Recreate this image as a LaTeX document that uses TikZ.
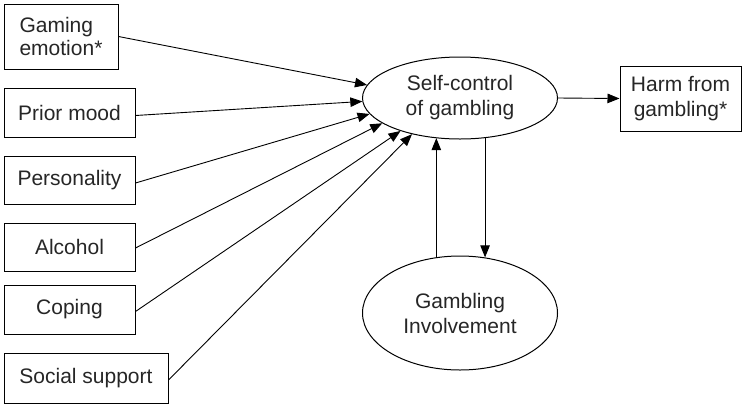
\documentclass[tikz,border=0pt]{standalone}
\usepackage{fontspec}
\setmainfont{Liberation Sans}
\usetikzlibrary{shapes.geometric,arrows.meta}

\begin{document}
\begin{tikzpicture}[x=1pt,y=-1pt,
  label text/.style={font=\fontsize{21}{25}\selectfont, text=black!85, align=center},
  factor/.style={label text, draw, line width=1pt, rectangle, inner sep=0pt},
  construct/.style={label text, draw, line width=1pt, ellipse, inner sep=0pt},
  link/.style={draw, line width=0.9pt, -{Triangle[length=12pt,width=9.5pt]}}
]
\useasboundingbox (0,0) rectangle (743,405);

% predictors on the left
\node[factor, minimum width=114pt, minimum height=65pt, align=left, font=\fontsize{21}{23}\selectfont]
  (ge) at (61,36.5) {Gaming\\emotion*};
\node[factor, minimum width=131pt, minimum height=49pt] (pm) at (69.5,112.5) {Prior mood};
\node[factor, minimum width=131pt, minimum height=48pt] (pe) at (69.5,180) {Personality};
\node[factor, minimum width=131pt, minimum height=48pt] (al) at (69.5,247) {Alcohol};
\node[factor, minimum width=131pt, minimum height=49pt] (co) at (69.5,309.5) {Coping};
\node[factor, minimum width=164pt, minimum height=50pt] (ss) at (86,378) {Social support};

% central constructs
\node[construct, minimum width=195pt, minimum height=82pt] (sc) at (460,98) {Self-control\\of gambling};
\node[construct, minimum width=195pt, minimum height=114pt] (gi) at (460,313) {Gambling\\Involvement};

% outcome
\node[factor, minimum width=121pt, minimum height=65pt] (hm) at (680.5,98.5) {Harm from\\gambling*};

% paths into self-control
\draw[link] (ge.east) -- (sc.172.8);
\draw[link] ([yshift=-3pt]pm.east) -- (sc.182.3);
\draw[link] ([yshift=-3pt]pe.east) -- (sc.190.1);
\draw[link] ([yshift=-1pt]al.east) -- (sc.198);
\draw[link] ([yshift=-2pt]co.east) -- (sc.209);
\draw[link] ([yshift=-2pt]ss.east) -- (sc.217.8);

% self-control to harm
\draw[link] (sc.east) -- (hm.west);

% reciprocal paths between self-control and involvement
\draw[link] (gi.113.5) -- (gi.113.5 |- sc.238.85);
\draw[link] (sc.-58.85) -- (sc.-58.85 |- gi.66.5);
\end{tikzpicture}
\end{document}
